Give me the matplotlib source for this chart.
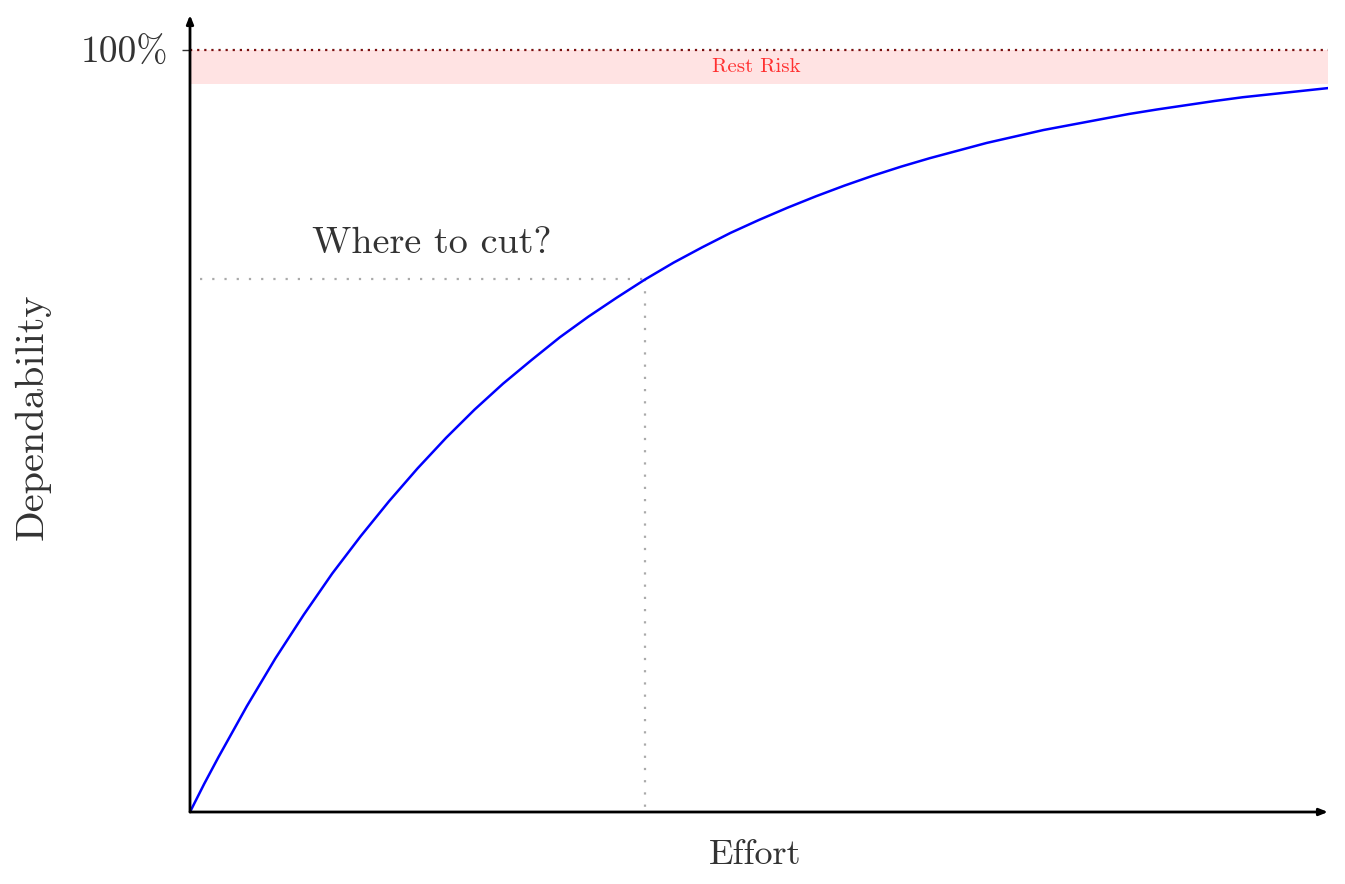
import matplotlib
matplotlib.use("Agg")
import matplotlib.pyplot as plt

plt.rcParams['font.family'] = ['cmr10', 'DejaVu Serif']
plt.rcParams['axes.formatter.use_mathtext'] = True
plt.rcParams['mathtext.fontset'] = 'cm'

# Data
effort = [0, 0.125, 0.25, 0.5, 0.75, 1, 1.25, 1.5, 1.75, 2, 2.25, 2.5, 2.75,
          3, 3.25, 3.5, 3.75, 4, 4.25, 4.5, 4.75, 5, 5.25, 5.5, 5.75, 6,
          6.25, 6.5, 6.75, 7, 7.25, 7.5, 7.75, 8, 8.25, 8.5, 8.75, 9, 9.25,
          9.5, 9.75, 10]
dependability = [0, 3.7, 7.2, 13.9, 20.15, 25.9, 31.3, 36.2, 40.8, 45.1, 49.1,
                 52.8, 56.2, 59.3, 62.3, 65.0, 67.5, 69.9, 72.1, 74.1, 76.0,
                 77.7, 79.3, 80.8, 82.2, 83.5, 84.7, 85.8, 86.8, 87.8, 88.65,
                 89.5, 90.2, 90.9, 91.6, 92.2, 92.75, 93.3, 93.8, 94.2, 94.6,
                 95.0]
cut_effort = 4.0
cut_dep = 69.9
full_level = 100
rest_risk_low = 95.5
ytick_values = [100]
ytick_labels = ['100%']

W, H = 1345, 884
fig = plt.figure(figsize=(W / 100, H / 100), dpi=100)
left, right, bottom, top = 190, 1328, 812, 15
ax = fig.add_axes([left / W, 1 - bottom / H, (right - left) / W, (bottom - top) / H])

y_top = full_level + (50 - top) / (bottom - 50) * full_level
ax.set_xlim(0, 10)
ax.set_ylim(0, y_top)

for s in ax.spines.values():
    s.set_visible(False)

txt_color = '#333333'

# Rest risk band
ax.axhspan(rest_risk_low, full_level, xmin=0, xmax=1, color='#ffe3e3', lw=0, zorder=1)
ax.axhline(full_level, color='#7a1010', lw=1.6, ls=(0, (1, 2.2)), zorder=2)
ax.text(4.98, (full_level + rest_risk_low) / 2, 'Rest Risk', color='#ff3030',
        fontsize=15, ha='center', va='center', zorder=3)

# Cut guides
ax.plot([0.09, cut_effort], [cut_dep, cut_dep], color='#aaaaaa', lw=1.6,
        ls=(0, (1, 4.5)), zorder=2)
ax.plot([cut_effort, cut_effort], [cut_dep, 0], color='#aaaaaa', lw=1.6,
        ls=(0, (1, 4.5)), zorder=2)
ax.text(2.12, 74.6, 'Where to cut?', fontsize=27.5, color=txt_color,
        ha='center', va='center')

# Curve
ax.plot(effort, dependability, color='#0000ff', lw=1.8, zorder=4,
        solid_capstyle='round', solid_joinstyle='round')

# Axes arrows
ax.annotate('', xy=(1.0, 0), xytext=(0, 0), xycoords='axes fraction',
            arrowprops=dict(arrowstyle='-|>,head_length=0.5,head_width=0.2',
                            color='black', lw=2, shrinkA=0, shrinkB=0), zorder=5)
ax.annotate('', xy=(0, 1.0), xytext=(0, 0), xycoords='axes fraction',
            arrowprops=dict(arrowstyle='-|>,head_length=0.5,head_width=0.2',
                            color='black', lw=2, shrinkA=0, shrinkB=0), zorder=5)

ax.set_xticks([])
ax.set_yticks(ytick_values)
ax.set_yticklabels(ytick_labels, fontsize=27, color=txt_color)
ax.tick_params(axis='y', length=6, width=1, color='#333333', pad=10)

fig.text(755 / W, 1 - 855 / H, 'Effort', fontsize=26, color=txt_color,
         ha='center', va='center')
fig.text(32 / W, 1 - 417 / H, 'Dependability', fontsize=29, color=txt_color,
         ha='center', va='center', rotation=90)

fig.savefig('out.png', dpi=100)
